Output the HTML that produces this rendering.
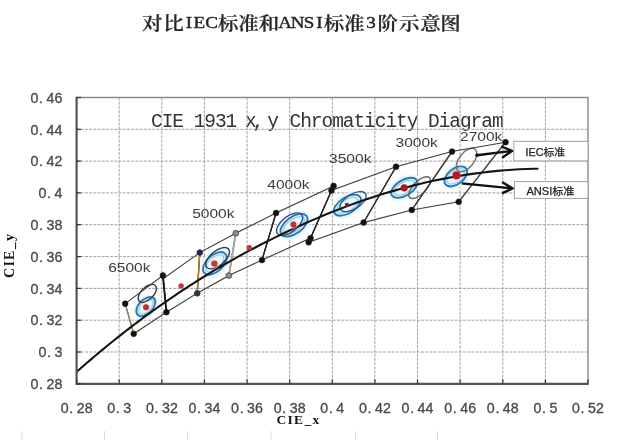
<!DOCTYPE html>
<html><head><meta charset="utf-8"><title>对比IEC标准和ANSI标准3阶示意图</title>
<style>
html,body{margin:0;padding:0;background:#fff;}
body{width:629px;height:440px;overflow:hidden;}
svg{display:block;filter:blur(0.4px);}
.g{stroke:#a2a2a2;stroke-width:1;stroke-dasharray:3 1.2;}
.tk{font-family:"Liberation Sans",sans-serif;font-size:14.2px;fill:#484848;stroke:#484848;stroke-width:0.3px;}
.ttl{font-family:"Liberation Serif","Noto Serif CJK SC",serif;font-size:20.5px;font-weight:600;fill:#262626;stroke:#262626;stroke-width:0.25px;}
.tl{font-weight:normal;font-size:19px;baseline-shift:1.8px;stroke:#262626;stroke-width:0.5px;}
.ct{font-family:"Liberation Mono",monospace;font-size:19.5px;fill:#333;}
.ax{font-family:"Liberation Serif",serif;font-size:13.5px;font-weight:bold;fill:#151515;}
.lb{font-family:"Liberation Sans",sans-serif;font-size:13.4px;fill:#3c3c3c;}
.bx{font-family:"Liberation Sans","Noto Sans CJK SC",sans-serif;font-size:10.5px;fill:#222;stroke:#222;stroke-width:0.25px;}
</style></head>
<body><svg width="629" height="440" viewBox="0 0 629 440">
<defs>
<radialGradient id="cy" cx="0.5" cy="0.5" r="0.5"><stop offset="0" stop-color="#ffffff"/><stop offset="0.45" stop-color="#eef9fd"/><stop offset="1" stop-color="#c6ecf8"/></radialGradient>
<radialGradient id="pk" cx="0.5" cy="0.5" r="0.5"><stop offset="0" stop-color="#f4c0b8"/><stop offset="1" stop-color="#fbe8e0" stop-opacity="0"/></radialGradient>
<clipPath id="pc"><rect x="76.6" y="97.5" width="511.4" height="286.3"/></clipPath>
</defs>
<rect width="629" height="440" fill="#fff"/>
<text class="ttl" transform="translate(0 31) scale(1 0.89) translate(0 -31)" x="152.3 173.6 189 199.4 211.5 228.2 248.6 269 285 297.5 309 319.3 334 354.3 371.1 387.8 409.2 430.4 450.6" y="29.4" text-anchor="middle">对比<tspan class="tl">IEC</tspan>标准和<tspan class="tl">ANSI</tspan>标准<tspan class="tl">3</tspan>阶示意图</text>
<text class="ct" x="156.92 167.57 178.22 188.88 199.53 210.18 220.82 231.47 242.12 250.77 258.43 273.07 284.73 295.38 306.02 316.68 327.32 337.98 348.62 359.27 369.93 380.57 391.23 401.88 412.52 423.17 433.83 444.48 455.12 465.77 476.42 487.08 497.73" y="127.0" text-anchor="middle" >CIE 1931 x,y Chromaticity Diagram</text>
<text class="ax" x="276.5" y="423.5" textLength="42.7" lengthAdjust="spacing">CIE_x</text>
<text class="ax" transform="translate(13.8 278) rotate(-90)" x="0" y="0" textLength="44" lengthAdjust="spacing" style="font-size:14px">CIE_y</text>
<line x1="119.2" y1="97.5" x2="119.2" y2="383.8" class="g"/>
<line x1="161.8" y1="97.5" x2="161.8" y2="383.8" class="g"/>
<line x1="204.4" y1="97.5" x2="204.4" y2="383.8" class="g"/>
<line x1="247.1" y1="97.5" x2="247.1" y2="383.8" class="g"/>
<line x1="289.7" y1="97.5" x2="289.7" y2="383.8" class="g"/>
<line x1="332.3" y1="97.5" x2="332.3" y2="383.8" class="g"/>
<line x1="374.9" y1="97.5" x2="374.9" y2="383.8" class="g"/>
<line x1="417.5" y1="97.5" x2="417.5" y2="383.8" class="g"/>
<line x1="460.1" y1="97.5" x2="460.1" y2="383.8" class="g"/>
<line x1="502.8" y1="97.5" x2="502.8" y2="383.8" class="g"/>
<line x1="545.4" y1="97.5" x2="545.4" y2="383.8" class="g"/>
<line x1="76.6" y1="129.3" x2="588.0" y2="129.3" class="g"/>
<line x1="76.6" y1="161.1" x2="588.0" y2="161.1" class="g"/>
<line x1="76.6" y1="192.9" x2="588.0" y2="192.9" class="g"/>
<line x1="76.6" y1="224.7" x2="588.0" y2="224.7" class="g"/>
<line x1="76.6" y1="256.6" x2="588.0" y2="256.6" class="g"/>
<line x1="76.6" y1="288.4" x2="588.0" y2="288.4" class="g"/>
<line x1="76.6" y1="320.2" x2="588.0" y2="320.2" class="g"/>
<line x1="76.6" y1="352.0" x2="588.0" y2="352.0" class="g"/>
<path d="M76.6 97.5H588.0V383.8" fill="none" stroke="#8a8a8a" stroke-width="1.4"/>
<ellipse cx="145.8" cy="306.6" rx="13.687999999999999" ry="10.15" transform="rotate(-46 145.8 306.6)" fill="#e6f6fb"/>
<ellipse cx="214.8" cy="263.4" rx="16.755999999999997" ry="11.889999999999999" transform="rotate(-43 214.8 263.4)" fill="#e6f6fb"/>
<ellipse cx="294.0" cy="225.2" rx="18.407999999999998" ry="12.18" transform="rotate(-36 294.0 225.2)" fill="#e6f6fb"/>
<ellipse cx="347.4" cy="205.2" rx="17.936" ry="11.6" transform="rotate(-32 347.4 205.2)" fill="#e6f6fb"/>
<ellipse cx="404.3" cy="187.8" rx="17.227999999999998" ry="11.309999999999999" transform="rotate(-31 404.3 187.8)" fill="#e6f6fb"/>
<ellipse cx="455.8" cy="176.4" rx="15.34" ry="11.309999999999999" transform="rotate(-38 455.8 176.4)" fill="#e6f6fb"/>
<ellipse cx="145.8" cy="306.6" rx="11.6" ry="7.0" transform="rotate(-46 145.8 306.6)" fill="url(#cy)"/>
<ellipse cx="214.8" cy="263.4" rx="14.2" ry="8.2" transform="rotate(-43 214.8 263.4)" fill="url(#cy)"/>
<ellipse cx="294.0" cy="225.2" rx="15.6" ry="8.4" transform="rotate(-36 294.0 225.2)" fill="url(#cy)"/>
<ellipse cx="347.4" cy="205.2" rx="15.2" ry="8.0" transform="rotate(-32 347.4 205.2)" fill="url(#cy)"/>
<ellipse cx="404.3" cy="187.8" rx="14.6" ry="7.8" transform="rotate(-31 404.3 187.8)" fill="url(#cy)"/>
<ellipse cx="455.8" cy="176.4" rx="13.0" ry="7.8" transform="rotate(-38 455.8 176.4)" fill="url(#cy)"/>
<ellipse cx="145.8" cy="306.6" rx="9.048" ry="5.04" transform="rotate(-46 145.8 306.6)" fill="none" stroke="#8cc8e2" stroke-width="1"/>
<ellipse cx="145.8" cy="306.6" rx="11.6" ry="7.0" transform="rotate(-46 145.8 306.6)" fill="none" stroke="#2e74ae" stroke-width="1.8"/>
<ellipse cx="214.8" cy="263.4" rx="11.076" ry="5.903999999999999" transform="rotate(-43 214.8 263.4)" fill="none" stroke="#8cc8e2" stroke-width="1"/>
<ellipse cx="214.8" cy="263.4" rx="14.2" ry="8.2" transform="rotate(-43 214.8 263.4)" fill="none" stroke="#2e74ae" stroke-width="1.8"/>
<ellipse cx="294.0" cy="225.2" rx="12.168" ry="6.048" transform="rotate(-36 294.0 225.2)" fill="none" stroke="#8cc8e2" stroke-width="1"/>
<ellipse cx="294.0" cy="225.2" rx="15.6" ry="8.4" transform="rotate(-36 294.0 225.2)" fill="none" stroke="#2e74ae" stroke-width="1.8"/>
<ellipse cx="347.4" cy="205.2" rx="11.856" ry="5.76" transform="rotate(-32 347.4 205.2)" fill="none" stroke="#8cc8e2" stroke-width="1"/>
<ellipse cx="347.4" cy="205.2" rx="15.2" ry="8.0" transform="rotate(-32 347.4 205.2)" fill="none" stroke="#2e74ae" stroke-width="1.8"/>
<ellipse cx="404.3" cy="187.8" rx="11.388" ry="5.616" transform="rotate(-31 404.3 187.8)" fill="none" stroke="#8cc8e2" stroke-width="1"/>
<ellipse cx="404.3" cy="187.8" rx="14.6" ry="7.8" transform="rotate(-31 404.3 187.8)" fill="none" stroke="#2e74ae" stroke-width="1.8"/>
<ellipse cx="455.8" cy="176.4" rx="10.14" ry="5.616" transform="rotate(-38 455.8 176.4)" fill="none" stroke="#8cc8e2" stroke-width="1"/>
<ellipse cx="455.8" cy="176.4" rx="13.0" ry="7.8" transform="rotate(-38 455.8 176.4)" fill="none" stroke="#2e74ae" stroke-width="1.8"/>
<ellipse cx="147.3" cy="293.4" rx="11.2" ry="6.2" transform="rotate(-44 147.3 293.4)" fill="none" stroke="#3a3d44" stroke-width="1.4"/>
<ellipse cx="217.6" cy="258.2" rx="14.2" ry="7.2" transform="rotate(-40 217.6 258.2)" fill="none" stroke="#2c3a58" stroke-width="1.4"/>
<ellipse cx="289.6" cy="224.2" rx="15.4" ry="7.8" transform="rotate(-38 289.6 224.2)" fill="none" stroke="#2b4f88" stroke-width="1.4"/>
<ellipse cx="353.0" cy="201.6" rx="14.8" ry="7.4" transform="rotate(-32 353.0 201.6)" fill="none" stroke="#2d5a8a" stroke-width="1.4"/>
<ellipse cx="419.6" cy="187.6" rx="14.0" ry="6.4" transform="rotate(-45 419.6 187.6)" fill="none" stroke="#5c6670" stroke-width="1.4"/>
<ellipse cx="466.6" cy="160.0" rx="13.6" ry="7.4" transform="rotate(-52 466.6 160.0)" fill="none" stroke="#6e7276" stroke-width="1.4"/>
<path d="M162.90 275.48 L125.18 303.64 L133.70 333.80 L166.40 312.20Z" fill="none" stroke="#3e3e3e" stroke-width="1.1"/>
<path d="M199.80 252.60 L163.32 278.51 L166.40 312.20 L197.21 293.30Z" fill="none" stroke="#3e3e3e" stroke-width="1.1"/>
<path d="M235.80 233.20 L199.80 252.60 L197.21 293.30 L228.90 275.60Z" fill="none" stroke="#3e3e3e" stroke-width="1.1"/>
<path d="M276.05 212.97 L235.80 233.20 L228.90 275.60 L261.98 260.05Z" fill="none" stroke="#3e3e3e" stroke-width="1.1"/>
<path d="M333.58 185.93 L276.05 212.97 L261.98 260.05 L310.57 238.11Z" fill="none" stroke="#3e3e3e" stroke-width="1.1"/>
<path d="M396.01 166.69 L331.45 190.55 L308.65 242.24 L363.62 222.52Z" fill="none" stroke="#3e3e3e" stroke-width="1.1"/>
<path d="M452.05 151.58 L396.01 166.69 L363.62 222.52 L411.78 209.95Z" fill="none" stroke="#3e3e3e" stroke-width="1.1"/>
<path d="M505.54 142.19 L452.05 151.58 L411.78 209.95 L458.66 201.84Z" fill="none" stroke="#3e3e3e" stroke-width="1.1"/>
<line x1="125.18" y1="303.64" x2="133.70" y2="333.80" stroke="#a08060" stroke-width="1.3"/>
<line x1="162.90" y1="275.48" x2="166.40" y2="312.20" stroke="#151515" stroke-width="1.8"/>
<line x1="199.80" y1="252.60" x2="197.21" y2="293.30" stroke="#b07a28" stroke-width="1.6"/>
<line x1="235.80" y1="233.20" x2="228.90" y2="275.60" stroke="#a8a8a8" stroke-width="2"/>
<line x1="276.05" y1="212.97" x2="261.98" y2="260.05" stroke="#222" stroke-width="1.3"/>
<line x1="333.58" y1="185.93" x2="310.57" y2="238.11" stroke="#222" stroke-width="1.3"/>
<line x1="396.01" y1="166.69" x2="363.62" y2="222.52" stroke="#333" stroke-width="1.2"/>
<line x1="452.05" y1="151.58" x2="411.78" y2="209.95" stroke="#444" stroke-width="1.1"/>
<line x1="505.54" y1="142.19" x2="458.66" y2="201.84" stroke="#444" stroke-width="1.1"/>
<path d="M74.68 373.61 L76.40 372.08 L78.17 370.52 L79.97 368.93 L81.81 367.32 L83.69 365.68 L85.62 364.01 L87.58 362.31 L89.59 360.59 L91.64 358.83 L93.74 357.05 L95.88 355.24 L98.07 353.41 L100.31 351.54 L102.59 349.65 L104.93 347.72 L107.31 345.77 L109.74 343.79 L112.23 341.78 L114.77 339.74 L117.36 337.67 L120.01 335.57 L122.72 333.45 L125.48 331.29 L128.30 329.11 L131.17 326.90 L134.11 324.66 L137.11 322.40 L140.17 320.10 L143.30 317.78 L146.49 315.44 L149.74 313.07 L153.06 310.67 L156.45 308.24 L159.90 305.80 L163.42 303.33 L167.02 300.83 L170.68 298.32 L174.42 295.78 L178.23 293.22 L182.11 290.65 L186.07 288.05 L190.10 285.44 L194.21 282.81 L198.39 280.16 L202.65 277.50 L206.99 274.83 L211.41 272.14 L215.91 269.45 L220.49 266.74 L225.15 264.03 L229.89 261.32 L234.71 258.59 L239.61 255.87 L244.59 253.15 L249.65 250.42 L254.80 247.71 L260.02 244.99 L265.33 242.28 L270.72 239.58 L276.18 236.89 L281.73 234.22 L287.35 231.56 L293.20 228.82 L298.98 226.15 L304.82 223.52 L310.71 220.91 L316.67 218.35 L322.68 215.82 L328.76 213.33 L334.89 210.88 L341.08 208.47 L347.33 206.12 L353.63 203.81 L360.00 201.55 L366.42 199.35 L372.89 197.20 L379.42 195.11 L386.00 193.08 L392.64 191.12 L399.32 189.22 L406.06 187.39 L412.85 185.63 L419.68 183.94 L426.56 182.33 L433.49 180.80 L440.46 179.35 L447.47 177.98 L454.52 176.69 L461.61 175.50 L468.73 174.39 L475.89 173.37 L483.08 172.45 L490.30 171.62 L497.54 170.90 L504.80 170.27 L512.08 169.74 L519.38 169.31 L526.69 168.98 L534.01 168.76 L537.57 168.69" fill="none" stroke="#151515" stroke-width="2.1" stroke-linecap="round" clip-path="url(#pc)"/>
<circle cx="146.0" cy="307.2" r="6.0" fill="url(#pk)"/>
<circle cx="146.0" cy="307.2" r="3.0" fill="#bf2e3e"/>
<circle cx="181.1" cy="285.9" r="2.7" fill="#d0303a"/>
<circle cx="214.4" cy="263.6" r="6.2" fill="url(#pk)"/>
<circle cx="214.4" cy="263.6" r="3.2" fill="#c63838"/>
<circle cx="249.3" cy="247.8" r="2.7" fill="#d0303a"/>
<circle cx="293.4" cy="224.6" r="6.0" fill="url(#pk)"/>
<circle cx="293.4" cy="224.6" r="3.0" fill="#c23040"/>
<circle cx="346.9" cy="204.8" r="2.1" fill="#7a2030"/>
<circle cx="404.2" cy="187.8" r="3.6" fill="#a8181c"/>
<circle cx="456.5" cy="175.4" r="4.1" fill="#c4161e"/>
<circle cx="162.90" cy="275.48" r="2.9" fill="#111" stroke="#222" stroke-width="0.6"/>
<circle cx="125.18" cy="303.64" r="2.9" fill="#111" stroke="#222" stroke-width="0.6"/>
<circle cx="133.70" cy="333.80" r="2.9" fill="#111" stroke="#222" stroke-width="0.6"/>
<circle cx="166.40" cy="312.20" r="2.9" fill="#111" stroke="#222" stroke-width="0.6"/>
<circle cx="235.80" cy="233.20" r="2.9" fill="#8c8c8c" stroke="#222" stroke-width="0.6"/>
<circle cx="199.80" cy="252.60" r="2.9" fill="#1c2c50" stroke="#222" stroke-width="0.6"/>
<circle cx="197.21" cy="293.30" r="2.9" fill="#3a3a30" stroke="#222" stroke-width="0.6"/>
<circle cx="228.90" cy="275.60" r="2.9" fill="#8c8c8c" stroke="#222" stroke-width="0.6"/>
<circle cx="333.58" cy="185.93" r="2.9" fill="#111" stroke="#222" stroke-width="0.6"/>
<circle cx="276.05" cy="212.97" r="2.9" fill="#111" stroke="#222" stroke-width="0.6"/>
<circle cx="261.98" cy="260.05" r="2.9" fill="#111" stroke="#222" stroke-width="0.6"/>
<circle cx="310.57" cy="238.11" r="2.9" fill="#111" stroke="#222" stroke-width="0.6"/>
<circle cx="396.01" cy="166.69" r="2.9" fill="#111" stroke="#222" stroke-width="0.6"/>
<circle cx="331.45" cy="190.55" r="2.9" fill="#111" stroke="#222" stroke-width="0.6"/>
<circle cx="308.65" cy="242.24" r="2.9" fill="#111" stroke="#222" stroke-width="0.6"/>
<circle cx="363.62" cy="222.52" r="2.9" fill="#111" stroke="#222" stroke-width="0.6"/>
<circle cx="452.05" cy="151.58" r="2.9" fill="#111" stroke="#222" stroke-width="0.6"/>
<circle cx="411.78" cy="209.95" r="2.9" fill="#111" stroke="#222" stroke-width="0.6"/>
<circle cx="505.54" cy="142.19" r="2.9" fill="#111" stroke="#222" stroke-width="0.6"/>
<circle cx="458.66" cy="201.84" r="2.9" fill="#111" stroke="#222" stroke-width="0.6"/>
<text class="lb" x="108.2" y="271.6" textLength="42.3" lengthAdjust="spacingAndGlyphs">6500k</text>
<text class="lb" x="192.2" y="217.6" textLength="42.3" lengthAdjust="spacingAndGlyphs">5000k</text>
<text class="lb" x="267.3" y="189.3" textLength="42.3" lengthAdjust="spacingAndGlyphs">4000k</text>
<text class="lb" x="329.1" y="162.7" textLength="42.3" lengthAdjust="spacingAndGlyphs">3500k</text>
<text class="lb" x="395.5" y="146.8" textLength="42.3" lengthAdjust="spacingAndGlyphs">3000k</text>
<text class="lb" x="460" y="140.9" textLength="42.3" lengthAdjust="spacingAndGlyphs">2700k</text>
<path d="M476.8 155.3 L512 150.9 M501.4 146.5 L512 150.9 L502.1 157.7" fill="none" stroke="#111" stroke-width="2.4" stroke-linejoin="miter"/>
<path d="M461.8 183.4 L512.5 188.4 M502.1 182.0 L512.5 188.4 L502.1 193.4" fill="none" stroke="#111" stroke-width="2.4" stroke-linejoin="miter"/>
<circle cx="477" cy="155.2" r="1.8" fill="#111"/>
<rect x="513.8" y="141.3" width="74.2" height="19.6" fill="#fff" stroke="#a0a0a0" stroke-width="1"/>
<text class="bx" x="525.5" y="156.2" textLength="39.5" lengthAdjust="spacingAndGlyphs">IEC标准</text>
<rect x="514.5" y="181.6" width="73.5" height="16.8" fill="#fff" stroke="#a0a0a0" stroke-width="1"/>
<text class="bx" x="526.4" y="195.4" textLength="48" lengthAdjust="spacingAndGlyphs">ANSI标准</text>
<path d="M76.6 96.8V383.8H588.7" fill="none" stroke="#555" stroke-width="2.2"/>
<line x1="76.6" y1="383.8" x2="76.6" y2="379.3" stroke="#333" stroke-width="1.2"/>
<line x1="119.2" y1="383.8" x2="119.2" y2="379.3" stroke="#333" stroke-width="1.2"/>
<line x1="161.8" y1="383.8" x2="161.8" y2="379.3" stroke="#333" stroke-width="1.2"/>
<line x1="204.4" y1="383.8" x2="204.4" y2="379.3" stroke="#333" stroke-width="1.2"/>
<line x1="247.1" y1="383.8" x2="247.1" y2="379.3" stroke="#333" stroke-width="1.2"/>
<line x1="289.7" y1="383.8" x2="289.7" y2="379.3" stroke="#333" stroke-width="1.2"/>
<line x1="332.3" y1="383.8" x2="332.3" y2="379.3" stroke="#333" stroke-width="1.2"/>
<line x1="374.9" y1="383.8" x2="374.9" y2="379.3" stroke="#333" stroke-width="1.2"/>
<line x1="417.5" y1="383.8" x2="417.5" y2="379.3" stroke="#333" stroke-width="1.2"/>
<line x1="460.1" y1="383.8" x2="460.1" y2="379.3" stroke="#333" stroke-width="1.2"/>
<line x1="502.8" y1="383.8" x2="502.8" y2="379.3" stroke="#333" stroke-width="1.2"/>
<line x1="545.4" y1="383.8" x2="545.4" y2="379.3" stroke="#333" stroke-width="1.2"/>
<line x1="588.0" y1="383.8" x2="588.0" y2="379.3" stroke="#333" stroke-width="1.2"/>
<line x1="76.6" y1="97.5" x2="81.1" y2="97.5" stroke="#333" stroke-width="1.2"/>
<line x1="76.6" y1="129.3" x2="81.1" y2="129.3" stroke="#333" stroke-width="1.2"/>
<line x1="76.6" y1="161.1" x2="81.1" y2="161.1" stroke="#333" stroke-width="1.2"/>
<line x1="76.6" y1="192.9" x2="81.1" y2="192.9" stroke="#333" stroke-width="1.2"/>
<line x1="76.6" y1="224.7" x2="81.1" y2="224.7" stroke="#333" stroke-width="1.2"/>
<line x1="76.6" y1="256.6" x2="81.1" y2="256.6" stroke="#333" stroke-width="1.2"/>
<line x1="76.6" y1="288.4" x2="81.1" y2="288.4" stroke="#333" stroke-width="1.2"/>
<line x1="76.6" y1="320.2" x2="81.1" y2="320.2" stroke="#333" stroke-width="1.2"/>
<line x1="76.6" y1="352.0" x2="81.1" y2="352.0" stroke="#333" stroke-width="1.2"/>
<line x1="76.6" y1="383.8" x2="81.1" y2="383.8" stroke="#333" stroke-width="1.2"/>
<text class="tk" x="34.50 41.10 50.50 58.50" y="102.7" text-anchor="middle" >0.46</text>
<text class="tk" x="34.50 41.10 50.50 58.50" y="134.5" text-anchor="middle" >0.44</text>
<text class="tk" x="34.50 41.10 50.50 58.50" y="166.3" text-anchor="middle" >0.42</text>
<text class="tk" x="42.50 49.10 58.50" y="198.1" text-anchor="middle" >0.4</text>
<text class="tk" x="34.50 41.10 50.50 58.50" y="229.9" text-anchor="middle" >0.38</text>
<text class="tk" x="34.50 41.10 50.50 58.50" y="261.8" text-anchor="middle" >0.36</text>
<text class="tk" x="34.50 41.10 50.50 58.50" y="293.6" text-anchor="middle" >0.34</text>
<text class="tk" x="34.50 41.10 50.50 58.50" y="325.4" text-anchor="middle" >0.32</text>
<text class="tk" x="42.50 49.10 58.50" y="357.2" text-anchor="middle" >0.3</text>
<text class="tk" x="34.50 41.10 50.50 58.50" y="389.0" text-anchor="middle" >0.28</text>
<text class="tk" x="64.60 71.20 80.60 88.60" y="412.6" text-anchor="middle" >0.28</text>
<text class="tk" x="111.22 117.82 127.22" y="412.6" text-anchor="middle" >0.3</text>
<text class="tk" x="149.83 156.43 165.83 173.83" y="412.6" text-anchor="middle" >0.32</text>
<text class="tk" x="192.45 199.05 208.45 216.45" y="412.6" text-anchor="middle" >0.34</text>
<text class="tk" x="235.07 241.67 251.07 259.07" y="412.6" text-anchor="middle" >0.36</text>
<text class="tk" x="277.68 284.28 293.68 301.68" y="412.6" text-anchor="middle" >0.38</text>
<text class="tk" x="324.30 330.90 340.30" y="412.6" text-anchor="middle" >0.4</text>
<text class="tk" x="362.92 369.52 378.92 386.92" y="412.6" text-anchor="middle" >0.42</text>
<text class="tk" x="405.53 412.13 421.53 429.53" y="412.6" text-anchor="middle" >0.44</text>
<text class="tk" x="448.15 454.75 464.15 472.15" y="412.6" text-anchor="middle" >0.46</text>
<text class="tk" x="490.77 497.37 506.77 514.77" y="412.6" text-anchor="middle" >0.48</text>
<text class="tk" x="537.38 543.98 553.38" y="412.6" text-anchor="middle" >0.5</text>
<text class="tk" x="576.00 582.60 592.00 600.00" y="412.6" text-anchor="middle" >0.52</text>
<line x1="22" y1="431" x2="22" y2="440" stroke="#dcdcdc" stroke-width="1"/>
<line x1="104.5" y1="431" x2="104.5" y2="440" stroke="#dcdcdc" stroke-width="1"/>
<line x1="187.5" y1="431" x2="187.5" y2="440" stroke="#dcdcdc" stroke-width="1"/>
<line x1="271" y1="431" x2="271" y2="440" stroke="#dcdcdc" stroke-width="1"/>
<line x1="355.5" y1="431" x2="355.5" y2="440" stroke="#dcdcdc" stroke-width="1"/>
<line x1="437.5" y1="431" x2="437.5" y2="440" stroke="#dcdcdc" stroke-width="1"/>
</svg></body></html>
